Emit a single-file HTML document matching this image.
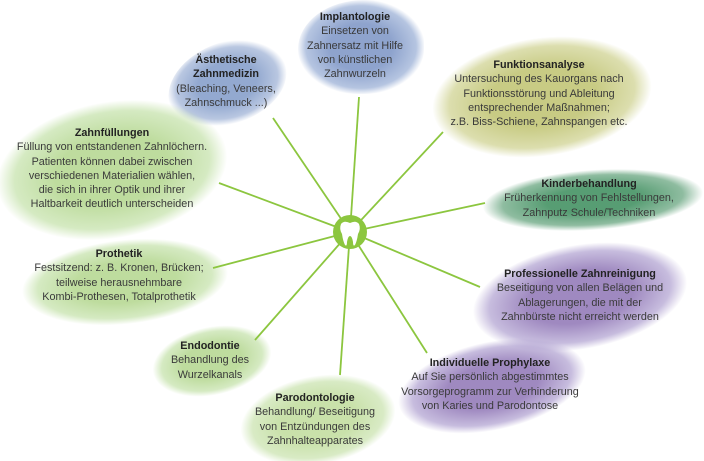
<!DOCTYPE html>
<html style="margin:0;width:704px;height:461px;overflow:hidden;"><head><meta charset="utf-8"><style>
body{margin:0;width:704px;height:461px;background:#fff;position:relative;overflow:hidden;font-family:"Liberation Sans",sans-serif;}
.b{position:absolute;}
.t{position:absolute;text-align:center;font-size:10.8px;line-height:14.3px;color:#3a3a3a;white-space:nowrap;transform:translateX(-50%);}
.t b{color:#222;}
svg{position:absolute;left:0;top:0;}
#wrap{position:absolute;left:0;top:0;width:704px;height:461px;overflow:hidden;}
</style></head><body><div id="wrap">
<div class="b" style="left:298px;top:0px;width:126px;height:94px;border-radius:55% 45% 50% 50%;background:radial-gradient(ellipse at center,#8ea3cd 35%,rgba(150,172,212,.7) 62%,rgba(255,255,255,0) 72%)"></div>
<div class="b" style="left:166px;top:42px;width:122px;height:82px;border-radius:60% 40% 55% 45%;transform:rotate(-15deg);background:radial-gradient(ellipse at center,#93a9d0 35%,rgba(155,175,212,.7) 60%,rgba(255,255,255,0) 71%)"></div>
<div class="b" style="left:432px;top:38px;width:220px;height:118px;border-radius:50%;transform:rotate(-8deg);background:radial-gradient(ellipse at center,#c8cb84 35%,rgba(205,208,140,.7) 60%,rgba(255,255,255,0) 71%)"></div>
<div class="b" style="left:-4px;top:102px;width:232px;height:136px;border-radius:50%;transform:rotate(-10deg);background:radial-gradient(ellipse at center,#bedc9e 35%,rgba(195,225,168,.7) 60%,rgba(255,255,255,0) 71%)"></div>
<div class="b" style="left:483px;top:170px;width:220px;height:60px;border-radius:50%;transform:rotate(-4deg);background:radial-gradient(ellipse at center,#579d73 30%,rgba(95,160,120,.7) 58%,rgba(255,255,255,0) 71%)"></div>
<div class="b" style="left:22px;top:240px;width:206px;height:84px;border-radius:50%;transform:rotate(-6deg);background:radial-gradient(ellipse at center,#bedc9e 35%,rgba(195,225,168,.7) 60%,rgba(255,255,255,0) 71%)"></div>
<div class="b" style="left:472px;top:245px;width:216px;height:104px;border-radius:50%;transform:rotate(-10deg);background:radial-gradient(ellipse at center,#9f89c0 35%,rgba(175,160,208,.7) 60%,rgba(255,255,255,0) 71%)"></div>
<div class="b" style="left:152px;top:327px;width:120px;height:68px;border-radius:50%;transform:rotate(-12deg);background:radial-gradient(ellipse at center,#bedc9e 35%,rgba(195,225,168,.7) 60%,rgba(255,255,255,0) 71%)"></div>
<div class="b" style="left:397px;top:342px;width:190px;height:88px;border-radius:50%;transform:rotate(-12deg);background:radial-gradient(ellipse at center,#9f89c0 35%,rgba(175,160,208,.7) 60%,rgba(255,255,255,0) 71%)"></div>
<div class="b" style="left:240px;top:376px;width:156px;height:88px;border-radius:50%;transform:rotate(-10deg);background:radial-gradient(ellipse at center,#c9e1aa 35%,rgba(200,226,172,.7) 60%,rgba(255,255,255,0) 71%)"></div>
<svg width="704" height="461">
<g stroke="#8cc63f" stroke-width="1.8">
<line x1="350" y1="232" x2="273" y2="118"/>
<line x1="350" y1="232" x2="359" y2="97"/>
<line x1="350" y1="232" x2="443" y2="132"/>
<line x1="350" y1="232" x2="485" y2="203"/>
<line x1="350" y1="232" x2="480" y2="287"/>
<line x1="350" y1="232" x2="427" y2="353"/>
<line x1="350" y1="232" x2="340" y2="375"/>
<line x1="350" y1="232" x2="255" y2="340"/>
<line x1="350" y1="232" x2="213" y2="268"/>
<line x1="350" y1="232" x2="219" y2="183"/>
</g>
<circle cx="350" cy="232" r="17" fill="#8cc63f"/>
<path d="M341 224 q3 -4 9 -1 q6 -3 9 1 q2 5 -1 10 q-1 7 -3 11 q-2 2 -2 -3 q-1 -6 -3 -6 q-2 0 -3 6 q0 5 -2 3 q-2 -4 -3 -11 q-3 -5 -1 -10z" fill="#fff"/>
</svg>
<div class="t" style="left:355px;top:10px;"><b>Implantologie</b><br>Einsetzen von<br>Zahnersatz mit Hilfe<br>von künstlichen<br>Zahnwurzeln</div>
<div class="t" style="left:226px;top:53px;"><b>Ästhetische<br>Zahnmedizin</b><br>(Bleaching, Veneers,<br>Zahnschmuck ...)</div>
<div class="t" style="left:539px;top:58px;"><b>Funktionsanalyse</b><br>Untersuchung des Kauorgans nach<br>Funktionsstörung und Ableitung<br>entsprechender Maßnahmen;<br>z.B. Biss-Schiene, Zahnspangen etc.</div>
<div class="t" style="left:112px;top:126px;"><b>Zahnfüllungen</b><br>Füllung von entstandenen Zahnlöchern.<br>Patienten können dabei zwischen<br>verschiedenen Materialien wählen,<br>die sich in ihrer Optik und ihrer<br>Haltbarkeit deutlich unterscheiden</div>
<div class="t" style="left:589px;top:177px;"><b>Kinderbehandlung</b><br>Früherkennung von Fehlstellungen,<br>Zahnputz Schule/Techniken</div>
<div class="t" style="left:119px;top:247px;"><b>Prothetik</b><br>Festsitzend: z. B. Kronen, Brücken;<br>teilweise herausnehmbare<br>Kombi-Prothesen, Totalprothetik</div>
<div class="t" style="left:580px;top:267px;"><b>Professionelle Zahnreinigung</b><br>Beseitigung von allen Belägen und<br>Ablagerungen, die mit der<br>Zahnbürste nicht erreicht werden</div>
<div class="t" style="left:210px;top:339px;"><b>Endodontie</b><br>Behandlung des<br>Wurzelkanals</div>
<div class="t" style="left:490px;top:356px;"><b>Individuelle Prophylaxe</b><br>Auf Sie persönlich abgestimmtes<br>Vorsorgeprogramm zur Verhinderung<br>von Karies und Parodontose</div>
<div class="t" style="left:315px;top:391px;"><b>Parodontologie</b><br>Behandlung/ Beseitigung<br>von Entzündungen des<br>Zahnhalteapparates</div>
</div></body></html>
